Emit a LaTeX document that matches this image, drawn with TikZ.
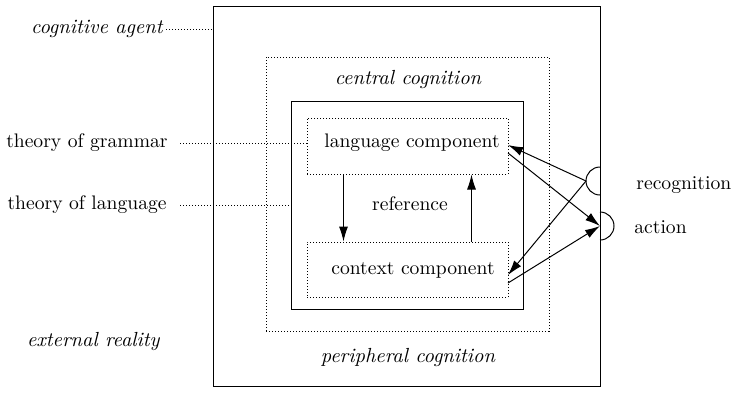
\documentclass[tikz,border=0pt]{standalone}
\usepackage{fontspec}
\newfontfamily\timesfont{Latin Modern Roman}
\usetikzlibrary{arrows.meta}
\begin{document}
\begin{tikzpicture}[x=0.5pt,y=-0.5pt,
  every node/.style={font=\timesfont\fontsize{9.8}{12}\selectfont, inner sep=0pt},
  dotbox/.style={draw, line width=0.5pt, dash pattern=on 0.5pt off 1pt},
  dotline/.style={line width=0.5pt, dash pattern=on 0.5pt off 1pt},
  arr/.style={line width=0.5pt, -{Latex[length=7.5pt,width=4.5pt]}},
  lbl/.style={font=\timesfont\fontsize{10.2}{12}\selectfont\itshape}]
\useasboundingbox (0,0) rectangle (735,392);
% boxes
\node[draw, line width=0.5pt, minimum width=193.5pt, minimum height=190pt] (outer) at (406.5,196) {};
\node[dotbox, minimum width=141.5pt, minimum height=137pt] (central) at (407.5,194) {};
\node[draw, line width=0.5pt, minimum width=116pt, minimum height=104pt] (inner) at (407,205) {};
\node[dotbox, minimum width=100.5pt, minimum height=28pt] (lang) at (407.5,146) {};
\node[dotbox, minimum width=100.5pt, minimum height=27.5pt] (ctx) at (407.5,269.5) {};
\node (langt) at (412,143) {language component};
\node (ctxt) at (413,270) {context component};
\node (ref) at (410,204) {reference};
\node[lbl] (cc) at (408,80) {central cognition};
\node[lbl] (pc) at (408,358) {peripheral cognition};
% left labels
\node[lbl, anchor=east] (agent) at (163,29) {cognitive agent};
\node[anchor=east] (grammar) at (168,143) {theory of grammar};
\node[anchor=east] (language) at (167,205) {theory of language};
\node[lbl, anchor=east] (ext) at (160,342) {external reality};
\draw[dotline] (agent.east) ++(3,0) coordinate (a1) -- (a1 -| outer.west);
\draw[dotline] (grammar.east) ++(12,0) coordinate (g1) -- (g1 -| lang.west);
\draw[dotline] (language.east) ++(13,0) coordinate (l1) -- (l1 -| inner.west);
% internal arrows
\draw[arr] ([xshift=-32pt]lang.south) -- ([xshift=-32pt]ctx.north);
\draw[arr] ([xshift=32pt]ctx.north) -- ([xshift=32pt]lang.north |- lang.south);
% semicircles
\coordinate (rtop) at (600,167);
\coordinate (rec) at (586,181);
\coordinate (atop) at (600,212);
\coordinate (act) at (600,226);
\draw[line width=0.5pt] (rtop) arc[start angle=90, end angle=270, radius=7pt];
\draw[line width=0.5pt] (atop) arc[start angle=90, end angle=-90, radius=7pt];
\node[anchor=west] (recl) at (636,185) {recognition};
\node[anchor=west] (actl) at (634,227) {action};
% external arrows
\coordinate (lin) at (508,145);
\coordinate (lout) at (508,153);
\coordinate (cin) at (508,275);
\coordinate (cout) at (508,283);
\draw[arr] (rec) -- (lin);
\draw[arr] (rec) -- (cin);
\draw[arr] (lout) -- (act);
\draw[arr] (cout) -- (act);
\end{tikzpicture}
\end{document}
